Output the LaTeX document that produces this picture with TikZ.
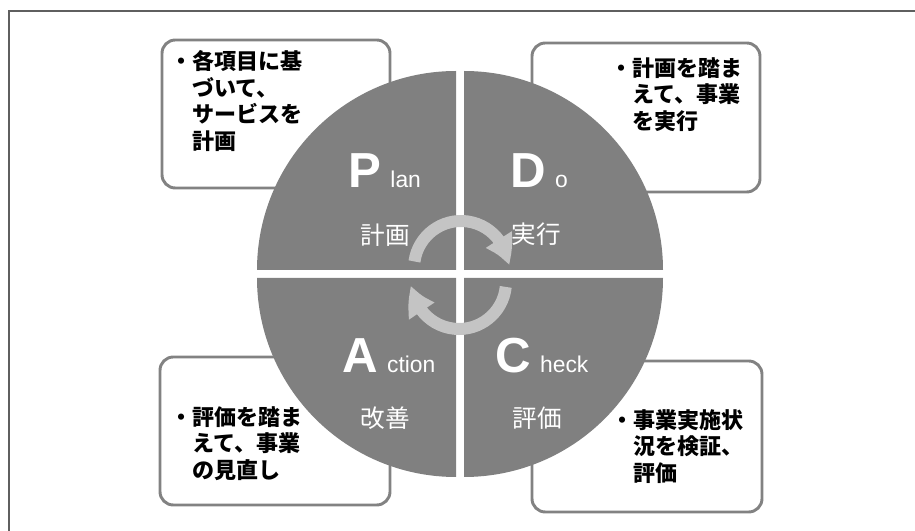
\documentclass[tikz,border=0pt]{standalone}
\usepackage{fontspec}
\setmainfont{Liberation Sans}
\newfontfamily\jp{Noto Sans CJK JP}
\usetikzlibrary{arrows.meta,bending}

\definecolor{quadgray}{RGB}{128,128,128}
\definecolor{cyclegray}{RGB}{196,196,196}
\definecolor{boxgray}{RGB}{130,130,130}
\definecolor{framegray}{RGB}{95,95,95}

\newcommand{\pdcaword}[2]{{\fontsize{42}{42}\selectfont\bfseries #1}\hspace{8pt}#2}

\tikzset{
    memo/.style={draw=boxgray, line width=2.5pt, rounded corners=0.4cm, fill=white},
    memotext/.style={anchor=north west, align=left, inner sep=0pt,
        font=\jp\bfseries\fontsize{18.8}{22.8}\selectfont},
    quadrant/.style={fill=quadgray},
    pdcalabel/.style={anchor=base west, inner sep=0pt, text=white,
        font=\fontsize{19.5}{19.5}\selectfont},
    jplabel/.style={inner sep=0pt, text=white, font=\jp\fontsize{21}{21}\selectfont},
    cycle arrow/.style={cyclegray, line width=0.36cm,
        -{Triangle[bend, length=0.85cm, width=0.85cm]}}
}

\begin{document}
\begin{tikzpicture}[x=0.03cm, y=0.03cm]
    \useasboundingbox (0,0) rectangle (915,531);

    % outer frame
    \draw[framegray, line width=1.6pt] (915,520) -- (9,520) -- (9,0);

    % memo boxes behind the circle
    \node[memo, minimum width=6.84cm, minimum height=4.44cm] (planbox)   at (276,417) {};
    \node[memo, minimum width=6.84cm, minimum height=4.47cm] (dobox)     at (646,413.5) {};
    \node[memo, minimum width=6.90cm, minimum height=4.44cm] (actionbox) at (275,100) {};
    \node[memo, minimum width=6.90cm, minimum height=4.53cm] (checkbox)  at (647,94.5) {};

    % the four quarters of the circle
    \fill[quadrant] (456,261) -- ++(-199,0) arc[start angle=180, end angle=90, radius=199] -- cycle;
    \fill[quadrant] (464,261) -- ++(0,199) arc[start angle=90, end angle=0, radius=199] -- cycle;
    \fill[quadrant] (464,253) -- ++(199,0) arc[start angle=0, end angle=-90, radius=199] -- cycle;
    \fill[quadrant] (456,253) -- ++(0,-199) arc[start angle=-90, end angle=-180, radius=199] -- cycle;

    % PDCA labels
    \node[pdcalabel] (plan)   at (348,343) {\pdcaword{P}{lan}};
    \node[pdcalabel] (do)     at (510,343) {\pdcaword{D}{o}};
    \node[pdcalabel] (action) at (342,158) {\pdcaword{A}{ction}};
    \node[pdcalabel] (check)  at (495,158) {\pdcaword{C}{heck}};

    \node[jplabel] (plan jp)   at (385,296) {計画};
    \node[jplabel] (do jp)     at (536,297) {実行};
    \node[jplabel] (action jp) at (385,113) {改善};
    \node[jplabel] (check jp)  at (537,113) {評価};

    % cycle arrows in the middle
    \draw[cycle arrow] ([shift={(172:47)}]461,263) arc[start angle=172, end angle=3, radius=47];
    \draw[cycle arrow] ([shift={(-6:47)}]459,249) arc[start angle=-6, end angle=-176, radius=47];

    % memo texts
    \node[memotext] (plantext) at (170,481)
        {・各項目に基\\\hspace*{1em}づいて、\\\hspace*{1em}サービスを\\\hspace*{1em}計画};
    \node[memotext] (dotext) at (610,474)
        {・計画を踏ま\\\hspace*{1em}えて、事業\\\hspace*{1em}を実行};
    \node[memotext] (actiontext) at (170,125)
        {・評価を踏ま\\\hspace*{1em}えて、事業\\\hspace*{1em}の見直し};
    \node[memotext] (checktext) at (611,122)
        {・事業実施状\\\hspace*{1em}況を検証、\\\hspace*{1em}評価};
\end{tikzpicture}
\end{document}
